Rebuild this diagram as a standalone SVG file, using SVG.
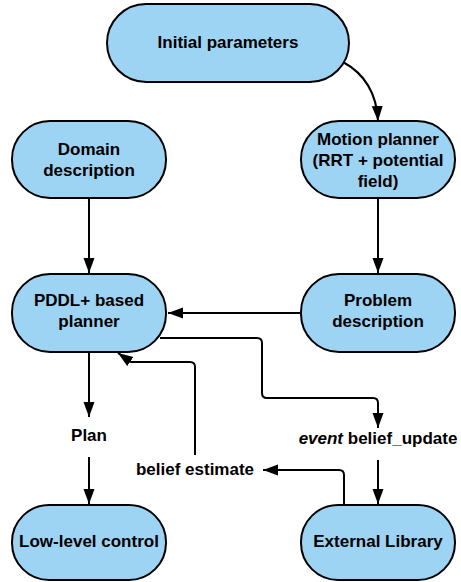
<svg xmlns="http://www.w3.org/2000/svg" width="461" height="582" viewBox="0 0 461 582">
  <style>
    .node rect { fill: #9dd3f3; stroke: #000; stroke-width: 2; }
    text { font-family: "Liberation Sans", Arial, sans-serif; font-weight: bold; font-size: 17px; fill: #000; text-anchor: middle; }
    .edge { fill: none; stroke: #000; stroke-width: 2; marker-end: url(#arrow); }
  </style>
  <defs>
    <marker id="arrow" markerUnits="userSpaceOnUse" markerWidth="16" markerHeight="12" refX="15" refY="5.5" orient="auto">
      <path d="M0,0 L15,5.5 L0,11 z" fill="#000"/>
    </marker>
  </defs>
  <rect width="461" height="582" fill="#fff"/>

  <g id="connectors">
    <!-- Initial parameters to Motion planner -->
    <path class="edge" d="M343,62 Q376,80 378,121"/>
    <!-- Domain description to PDDL+ planner -->
    <path class="edge" d="M89,198 V273"/>
    <!-- Motion planner to Problem description -->
    <path class="edge" d="M378,198 V273"/>
    <!-- Problem description to PDDL+ planner -->
    <path class="edge" d="M301,313 H168"/>
    <!-- PDDL+ planner to belief update event -->
    <path class="edge" d="M160,338 H257 Q262,338 262,343 V393 Q262,398 267,398 H373 Q378,398 378,403 V428"/>
    <!-- belief update event to External Library -->
    <path class="edge" d="M378,460 V504"/>
    <!-- External Library to belief estimate -->
    <path class="edge" d="M344,505 V475 Q344,470 339,470 H263"/>
    <!-- belief estimate back to PDDL+ planner -->
    <path class="edge" d="M195,455 V367 Q195,362 190,362 H131 L118,353"/>
    <!-- PDDL+ planner to Plan -->
    <path class="edge" d="M89,352 V417"/>
    <!-- Plan to Low-level control -->
    <path class="edge" d="M89,457 V504"/>
  </g>

  <g id="initial-parameters" class="node">
    <rect x="107" y="4" width="242" height="78" rx="39"/>
    <text x="228" y="48">Initial parameters</text>
  </g>
  <g id="domain-description" class="node">
    <rect x="12" y="121" width="154" height="77" rx="38"/>
    <text x="89" y="155">Domain</text>
    <text x="89" y="176">description</text>
  </g>
  <g id="motion-planner" class="node">
    <rect x="301" y="121" width="154" height="77" rx="38"/>
    <text x="378" y="145">Motion planner</text>
    <text x="378" y="166">(RRT + potential</text>
    <text x="378" y="187">field)</text>
  </g>
  <g id="pddl-planner" class="node">
    <rect x="12" y="274" width="154" height="78" rx="38"/>
    <text x="89" y="306">PDDL+ based</text>
    <text x="89" y="327">planner</text>
  </g>
  <g id="problem-description" class="node">
    <rect x="301" y="274" width="154" height="78" rx="38"/>
    <text x="378" y="306">Problem</text>
    <text x="378" y="327">description</text>
  </g>
  <g id="plan">
    <text x="89" y="441">Plan</text>
  </g>
  <g id="belief-update">
    <text x="378" y="444"><tspan font-style="italic">event</tspan> belief_update</text>
  </g>
  <g id="belief-estimate">
    <text x="195" y="475">belief estimate</text>
  </g>
  <g id="low-level-control" class="node">
    <rect x="12" y="505" width="154" height="75" rx="37"/>
    <text x="89" y="547">Low-level control</text>
  </g>
  <g id="external-library" class="node">
    <rect x="301" y="505" width="154" height="75" rx="37"/>
    <text x="378" y="547">External Library</text>
  </g>
</svg>
